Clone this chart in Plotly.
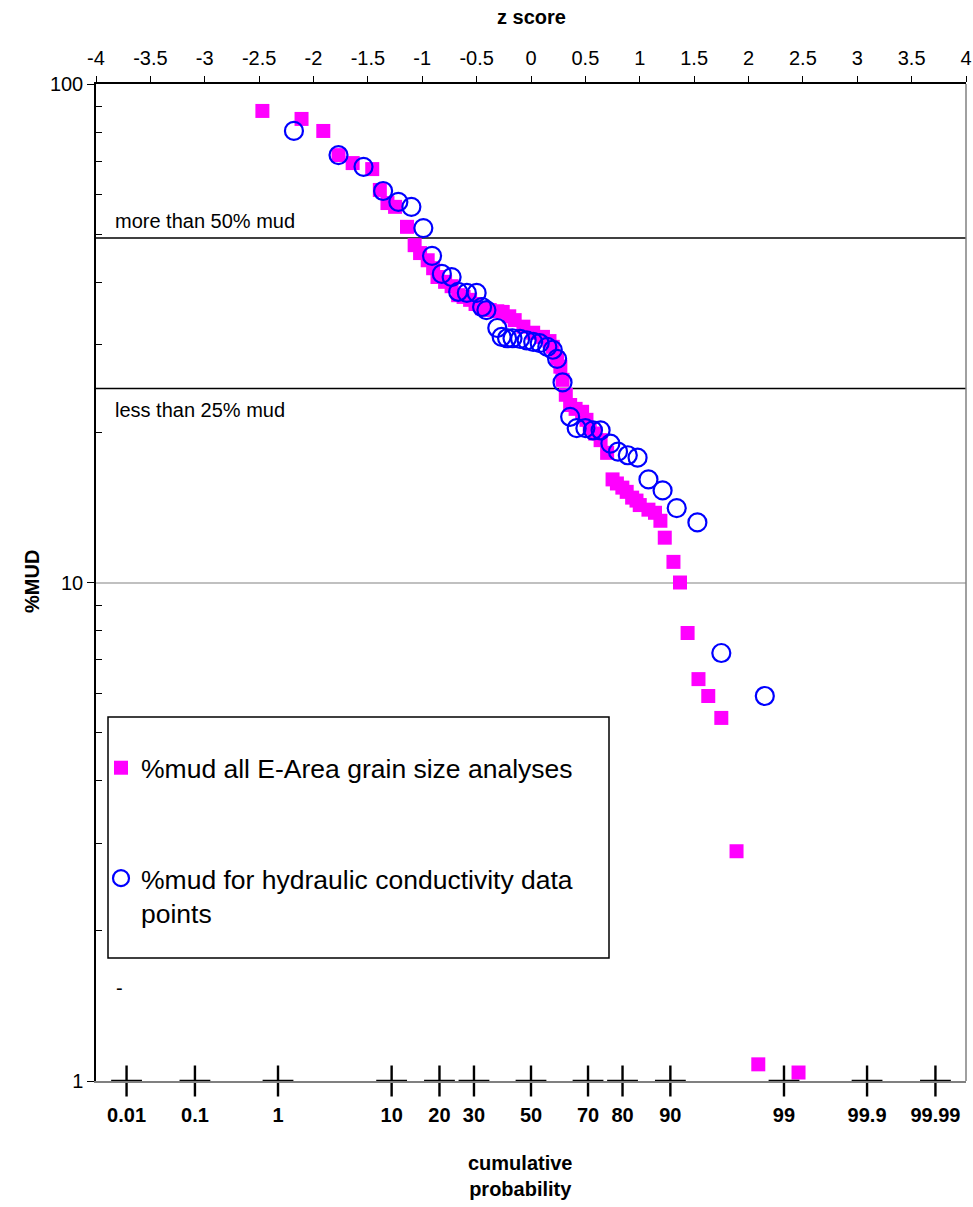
import plotly.graph_objects as go
from statistics import NormalDist

# ---------------- data ----------------
# %mud, all E-Area grain size analyses (z score, %mud)
all_z = [-2.47, -2.11, -1.91, -1.77, -1.64, -1.46, -1.39, -1.32, -1.25, -1.14,
         -1.07, -1.02, -0.95, -0.90, -0.86, -0.79, -0.73, -0.67, -0.62, -0.56,
         -0.51, -0.45, -0.38, -0.31, -0.26, -0.20, -0.15, -0.07, 0.02, 0.11,
         0.17, 0.20, 0.24, 0.27, 0.29, 0.32, 0.36, 0.41, 0.47, 0.51,
         0.54, 0.59, 0.64, 0.70, 0.75, 0.79, 0.84, 0.88, 0.93, 0.97,
         1.00, 1.08, 1.14, 1.19, 1.23, 1.31, 1.37, 1.44, 1.54, 1.63,
         1.75, 1.89, 2.09, 2.46]
all_mud = [88.3, 85.1, 80.5, 72.0, 69.4, 67.5, 61.3, 57.7, 56.7, 51.7,
           47.5, 45.8, 44.3, 42.7, 41.0, 40.1, 39.3, 37.7, 37.4, 36.9,
           36.2, 35.5, 35.2, 35.0, 34.9, 34.2, 33.6, 32.6, 31.7, 31.1,
           30.5, 29.7, 28.2, 27.1, 25.5, 23.8, 22.7, 22.3, 22.0, 21.2,
           20.4, 19.9, 19.3, 18.2, 16.1, 15.8, 15.5, 15.2, 14.8, 14.6,
           14.3, 14.0, 13.8, 13.3, 12.3, 11.0, 10.0, 7.92, 6.40, 5.92,
           5.35, 2.89, 1.08, 1.04]

# %mud for hydraulic conductivity data points
hk_z = [-2.18, -1.77, -1.54, -1.36, -1.22, -1.10, -0.99, -0.91, -0.82, -0.73,
        -0.67, -0.59, -0.50, -0.45, -0.41, -0.31, -0.27, -0.22, -0.17, -0.10,
        -0.04, 0.02, 0.08, 0.15, 0.20, 0.24, 0.29, 0.36, 0.42, 0.50,
        0.57, 0.64, 0.73, 0.80, 0.89, 0.98, 1.08, 1.21, 1.34, 1.53,
        1.75, 2.15]
hk_mud = [80.5, 72.0, 68.2, 61.0, 58.0, 56.7, 51.4, 45.2, 41.6, 41.0,
          38.3, 38.1, 38.1, 35.7, 35.2, 32.4, 31.1, 30.9, 30.9, 30.8,
          30.6, 30.4, 30.2, 29.7, 29.3, 28.1, 25.2, 21.5, 20.4, 20.4,
          20.2, 20.2, 19.0, 18.3, 18.0, 17.8, 16.1, 15.3, 14.1, 13.2,
          7.22, 5.92]

# cumulative probability axis (percent)
prob_values = [0.01, 0.1, 1, 10, 20, 30, 50, 70, 80, 90, 99, 99.9, 99.99]
prob_labels = ["0.01", "0.1", "1", "10", "20", "30", "50", "70", "80", "90",
               "99", "99.9", "99.99"]
prob_z = [NormalDist().inv_cdf(p / 100.0) for p in prob_values]

# z score axis ticks
z_ticks = [-4, -3.5, -3, -2.5, -2, -1.5, -1, -0.5, 0, 0.5, 1, 1.5, 2, 2.5, 3, 3.5, 4]
z_labels = ["-4", "-3.5", "-3", "-2.5", "-2", "-1.5", "-1", "-0.5", "0", "0.5",
            "1", "1.5", "2", "2.5", "3", "3.5", "4"]

# threshold lines (%mud)
threshold_values = [49.1, 24.5]
threshold_labels = ["more than 50% mud", "less than 25% mud"]

y_major = [1, 10, 100]
y_minor = [2, 3, 4, 5, 6, 7, 8, 9, 20, 30, 40, 50, 60, 70, 80, 90]

# ---------------- figure ----------------
W, H = 973, 1207
L, R, T, B = 96, 7, 84, 126
PW, PH = W - L - R, H - T - B

def px(xp):
    return (xp - L) / PW

def py(yp):
    return (H - B - yp) / PH

FONT = "Arial, Liberation Sans, sans-serif"
FS = 20

fig = go.Figure()

for tv in threshold_values:
    fig.add_trace(go.Scatter(x=[-4, 4], y=[tv, tv], mode="lines",
                             line=dict(color="black", width=1.5),
                             showlegend=False, hoverinfo="skip"))

fig.add_trace(go.Scatter(
    x=all_z, y=all_mud, mode="markers",
    name="%mud all E-Area grain size analyses", legendgroup="a",
    marker=dict(symbol="square", size=14, color="#FF00FF",
                line=dict(width=0))))

fig.add_trace(go.Scatter(
    x=hk_z, y=hk_mud, mode="markers",
    name="%mud for hydraulic conductivity data<br>points", legendgroup="b",
    marker=dict(symbol="circle-open", size=18, color="#0000FF",
                line=dict(width=2.2, color="#0000FF"))))

# cross tick marks on the cumulative probability axis
fig.add_trace(go.Scatter(
    x=prob_z, y=[1] * len(prob_z), mode="markers", cliponaxis=False,
    marker=dict(symbol="cross-thin", size=22, color="black",
                line=dict(width=2.4, color="black")),
    showlegend=False, hoverinfo="skip"))

# invisible trace to anchor the top z-score axis
fig.add_trace(go.Scatter(x=[-4, 4], y=[10, 10], mode="none", xaxis="x2",
                         showlegend=False, hoverinfo="skip"))

fig.update_layout(
    width=W, height=H,
    margin=dict(l=L, r=R, t=T, b=B, autoexpand=False),
    paper_bgcolor="white", plot_bgcolor="white",
    font=dict(family=FONT, color="black", size=FS),
    xaxis=dict(range=[-4, 4], tickmode="array", tickvals=prob_z, ticktext=prob_labels,
               tickfont=dict(size=FS, weight="bold"), ticks="", ticklabelstandoff=15,
               showgrid=False, zeroline=False, showline=True,
               linecolor="#808080", linewidth=1.5),
    xaxis2=dict(range=[-4, 4], overlaying="x", side="top", anchor="y",
                tickmode="array", tickvals=z_ticks, ticktext=z_labels,
                ticks="outside", ticklen=6, tickcolor="black", tickwidth=1,
                ticklabelstandoff=3,
                tickfont=dict(size=FS), showgrid=False, zeroline=False,
                showline=True, linecolor="black", linewidth=1.5),
    yaxis=dict(type="log", range=[0, 2], tickmode="array", tickvals=y_major,
               ticktext=[str(v) for v in y_major], ticks="outside", ticklen=7,
               tickcolor="black", tickwidth=1, tickfont=dict(size=FS),
               showgrid=True, gridcolor="#c0c0c0", gridwidth=2,
               zeroline=False, showline=True, linecolor="black", linewidth=1.5,
               minor=dict(tickmode="array", tickvals=y_minor, ticks="inside",
                          ticklen=6, tickcolor="black", tickwidth=1, showgrid=False)),
    showlegend=True,
    legend=dict(x=px(101), xanchor="left", y=py(744), yanchor="top",
                bgcolor="rgba(0,0,0,0)", borderwidth=0,
                font=dict(family=FONT, size=26.5, color="black"),
                tracegroupgap=73, valign="top", itemsizing="trace"),
    shapes=[
        dict(type="rect", xref="paper", yref="paper",
             x0=px(108), x1=px(609), y0=py(958), y1=py(717),
             line=dict(color="black", width=1.5), fillcolor="rgba(0,0,0,0)"),
        dict(type="line", xref="paper", yref="paper", x0=1, x1=1, y0=0, y1=1,
             line=dict(color="#808080", width=1.5)),
    ],
    annotations=[
        dict(text="<b>z score</b>", xref="paper", yref="paper", x=px(531), y=py(17),
             showarrow=False, font=dict(size=FS), xanchor="center", yanchor="middle"),
        dict(text="<b>%MUD</b>", xref="paper", yref="paper", x=px(32), y=py(582),
             showarrow=False, font=dict(size=FS), textangle=-90,
             xanchor="center", yanchor="middle"),
        dict(text="<b>cumulative<br>probability</b>", xref="paper", yref="paper",
             x=px(520), y=py(1176), showarrow=False, font=dict(size=FS),
             xanchor="center", yanchor="middle"),
        dict(text=threshold_labels[0], xref="paper", yref="paper", x=px(113), y=py(221),
             showarrow=False, font=dict(size=FS), xanchor="left", yanchor="middle"),
        dict(text=threshold_labels[1], xref="paper", yref="paper", x=px(113), y=py(410),
             showarrow=False, font=dict(size=FS), xanchor="left", yanchor="middle"),
        dict(text="-", xref="paper", yref="paper", x=px(114), y=py(988),
             showarrow=False, font=dict(size=FS), xanchor="left", yanchor="middle"),
    ],
)

fig.write_html("out.html")
